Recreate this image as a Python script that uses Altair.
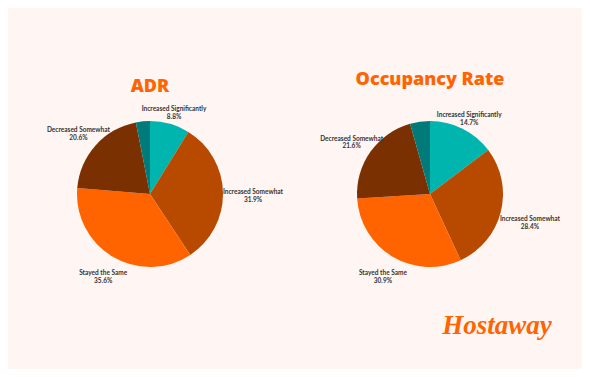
import altair as alt
import pandas as pd

categories = ["Increased Significantly", "Increased Somewhat", "Stayed the Same",
              "Decreased Somewhat", "Decreased Significantly"]
adr_values = [8.8, 31.9, 35.6, 20.6, 3.1]
occ_values = [14.7, 28.4, 30.9, 21.6, 4.4]
colors = ["#00B5AE", "#B84A00", "#FF6400", "#7A3000", "#007B79"]

BG = "#FFF6F3"
W, H = 280, 340
R = 73


def panel(values, title, title_y):
    df = pd.DataFrame({"category": categories, "value": values,
                       "order": list(range(len(categories)))})
    df["pct"] = df["value"].map(lambda v: f"{v}%")
    base = alt.Chart(df).transform_stack(
        stack="value", groupby=[], as_=["start", "end"],
        sort=[alt.SortField("order")]
    ).transform_calculate(
        mid="(datum.start + datum.end) / 2",
        label="datum.category + '\\n' + datum.pct"
    )
    theta_scale = alt.Scale(domain=[0, 100])
    arcs = base.mark_arc(radius=R).encode(
        theta=alt.Theta("start:Q", scale=theta_scale),
        theta2="end:Q",
        color=alt.Color("category:N", scale=alt.Scale(domain=categories, range=colors),
                        legend=None),
    )
    layers = [arcs]
    for cat, rad in [("Increased Significantly", 88), ("Increased Somewhat", 103),
                     ("Stayed the Same", 92), ("Decreased Somewhat", 96)]:
        t = base.transform_filter(alt.datum.category == cat).mark_text(
            radius=rad, align="center", baseline="middle", lineBreak="\n",
            font="Lato", fontSize=6.5, fontWeight="bold", color="#333333", lineHeight=7.8
        ).encode(
            theta=alt.Theta("mid:Q", scale=theta_scale),
            text="label:N",
        )
        layers.append(t)
    ttl = alt.Chart(pd.DataFrame({"t": [title]})).mark_text(
        font="Open Sans", fontSize=18, fontWeight=800, color="#FF6400",
        align="center", baseline="middle"
    ).encode(x=alt.value(W / 2), y=alt.value(title_y), text="t:N")
    layers.append(ttl)
    return alt.layer(*layers).properties(width=W, height=H)


left = panel(adr_values, "ADR", 63)
right = panel(occ_values, "Occupancy Rate", 56)
logo = alt.Chart(pd.DataFrame({"t": ["Hostaway"]})).mark_text(
    font="Liberation Serif", fontSize=27, fontStyle="italic", fontWeight="bold",
    color="#FF6400", align="center", baseline="middle"
).encode(x=alt.value(207), y=alt.value(302), text="t:N")
right = alt.layer(right, logo)

chart = alt.hconcat(left, right, spacing=0).properties(
    background=BG,
    padding={"left": 2, "top": 16, "right": 12, "bottom": 5},
).configure_view(stroke=None)

chart.save("out.html", embed_options={"renderer": "svg", "actions": False})
